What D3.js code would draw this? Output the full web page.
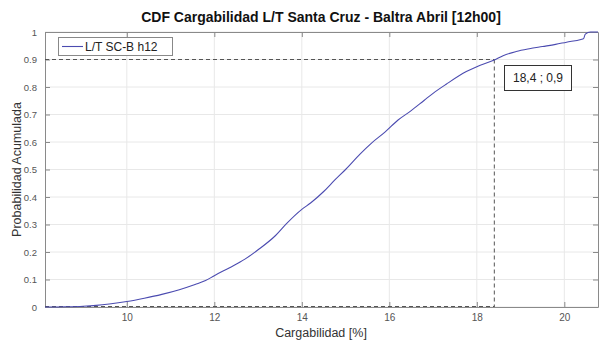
<!DOCTYPE html>
<html>
<head>
<meta charset="utf-8">
<script src="https://cdn.jsdelivr.net/npm/d3@7"></script>
<style>
  body { margin: 0; background: #fff; }
  svg { display: block; font-family: "Liberation Sans", Arial, sans-serif; }
</style>
</head>
<body>
<svg id="chart" width="600" height="341"></svg>
<script>
const titleText = "CDF Cargabilidad L/T Santa Cruz - Baltra Abril [12h00]";
const xLabel = "Cargabilidad [%]";
const yLabel = "Probabilidad Acumulada";
const seriesName = "L/T SC-B h12";
const annotationText = "18,4 ; 0,9";
const markX = 18.4;
const markY = 0.9;

const xTicks = [10, 12, 14, 16, 18, 20];
const yTicks = [0, 0.1, 0.2, 0.3, 0.4, 0.5, 0.6, 0.7, 0.8, 0.9, 1];
const yTickLabels = ["0", "0.1", "0.2", "0.3", "0.4", "0.5", "0.6", "0.7", "0.8", "0.9", "1"];

const cargabilidad = [8.13, 8.6, 9.0, 9.3, 9.6, 10.0, 10.4, 10.8, 11.2, 11.56, 11.8, 12.0, 12.35, 12.7,
  13.0, 13.4, 13.65, 14.0, 14.2, 14.5, 14.75, 15.0, 15.33, 15.6, 15.9, 16.2, 16.5, 16.8, 17.0, 17.3,
  17.76, 18.0, 18.4, 18.6, 18.9, 19.2, 19.5, 19.8, 20.05, 20.38, 20.44, 20.48, 20.6, 20.77];
const probabilidad = [0.000, 0.001, 0.003, 0.006, 0.011, 0.020, 0.032, 0.046, 0.063, 0.082, 0.096, 0.114, 0.143, 0.174,
  0.208, 0.260, 0.303, 0.355, 0.378, 0.420, 0.461, 0.500, 0.556, 0.597, 0.636, 0.680, 0.714, 0.752, 0.777, 0.810,
  0.856, 0.874, 0.898, 0.914, 0.929, 0.939, 0.947, 0.955, 0.963, 0.973, 0.976, 0.992, 1.000, 1.000];

const svg = d3.select("#chart");
const m = { left: 45, right: 2, top: 32, bottom: 34 };
const W = 600, H = 341;
const x = d3.scaleLinear().domain([8.13, 20.77]).range([m.left, W - m.right]);
const y = d3.scaleLinear().domain([0, 1]).range([H - m.bottom, m.top]);
const x0 = x.range()[0], x1 = x.range()[1], y0 = y.range()[0], y1 = y.range()[1];

// grid
const grid = svg.append("g").attr("stroke", "#e8e8e8").attr("stroke-width", 1);
xTicks.forEach(t => grid.append("line").attr("x1", x(t)).attr("x2", x(t)).attr("y1", y0).attr("y2", y1));
yTicks.forEach(t => grid.append("line").attr("x1", x0).attr("x2", x1).attr("y1", y(t)).attr("y2", y(t)));

// axes
const tickColor = "#555";
const xAxis = svg.append("g").attr("transform", `translate(0,${y0})`)
  .call(d3.axisBottom(x).tickValues(xTicks).tickSizeInner(-5).tickSizeOuter(0).tickPadding(7));
const xAxisTop = svg.append("g").attr("transform", `translate(0,${y1})`)
  .call(d3.axisTop(x).tickValues(xTicks).tickSizeInner(-5).tickSizeOuter(0).tickFormat(""));
const yAxis = svg.append("g").attr("transform", `translate(${x0},0)`)
  .call(d3.axisLeft(y).tickValues(yTicks).tickSizeInner(-5).tickSizeOuter(0).tickPadding(8)
    .tickFormat((d, i) => yTickLabels[i]));
const yAxisRight = svg.append("g").attr("transform", `translate(${x1},0)`)
  .call(d3.axisRight(y).tickValues(yTicks).tickSizeInner(-5).tickSizeOuter(0).tickFormat(""));
[xAxis, xAxisTop, yAxis, yAxisRight].forEach(g => {
  g.select(".domain").attr("stroke", "#8a8a8a");
  g.selectAll(".tick line").attr("stroke", "#8a8a8a");
  g.selectAll(".tick text").attr("fill", tickColor).attr("font-size", 10)
    .attr("font-family", "Liberation Sans, Arial, sans-serif");
});
yAxis.selectAll(".tick text").attr("font-size", 9.5);

// dashed guide lines
const dash = svg.append("g").attr("stroke", "#555").attr("stroke-width", 1).attr("stroke-dasharray", "4,3").attr("fill", "none");
dash.append("line").attr("x1", x0).attr("x2", x(markX)).attr("y1", y(markY)).attr("y2", y(markY));
dash.append("line").attr("x1", x(markX)).attr("x2", x(markX)).attr("y1", y(markY)).attr("y2", y0);
dash.append("line").attr("x1", x0).attr("x2", x(markX)).attr("y1", y0 - 0.5).attr("y2", y0 - 0.5);

// CDF curve
const data = cargabilidad.map((v, i) => [v, probabilidad[i]]);
svg.append("path").datum(data)
  .attr("fill", "none").attr("stroke", "#4b4bb0").attr("stroke-width", 1.1)
  .attr("d", d3.line().curve(d3.curveMonotoneX).x(d => x(d[0])).y(d => y(d[1])));

// annotation box
const ann = svg.append("g");
ann.append("rect").attr("x", 504.5).attr("y", 65.5).attr("width", 67).attr("height", 25)
  .attr("fill", "#fff").attr("stroke", "#333");
ann.append("text").attr("x", 538).attr("y", 82).attr("text-anchor", "middle")
  .attr("font-size", 12).attr("fill", "#222").text(annotationText);

// legend
const leg = svg.append("g");
leg.append("rect").attr("x", 58.5).attr("y", 37.5).attr("width", 114).attr("height", 18)
  .attr("fill", "#fff").attr("stroke", "#888");
leg.append("line").attr("x1", 62).attr("x2", 83).attr("y1", 46.5).attr("y2", 46.5)
  .attr("stroke", "#4b4bb0").attr("stroke-width", 1.1);
leg.append("text").attr("x", 85).attr("y", 51).attr("font-size", 12).attr("fill", "#222").text(seriesName);

// title & labels
svg.append("text").attr("x", 321).attr("y", 22).attr("text-anchor", "middle")
  .attr("font-size", 14).attr("font-weight", "bold").attr("fill", "#111").text(titleText);
svg.append("text").attr("x", 321).attr("y", 337).attr("text-anchor", "middle")
  .attr("font-size", 12.5).attr("fill", "#333").text(xLabel);
svg.append("text").attr("transform", `translate(21,${(y0 + y1) / 2}) rotate(-90)`).attr("text-anchor", "middle")
  .attr("font-size", 12.5).attr("fill", "#333").text(yLabel);
</script>
</body>
</html>
